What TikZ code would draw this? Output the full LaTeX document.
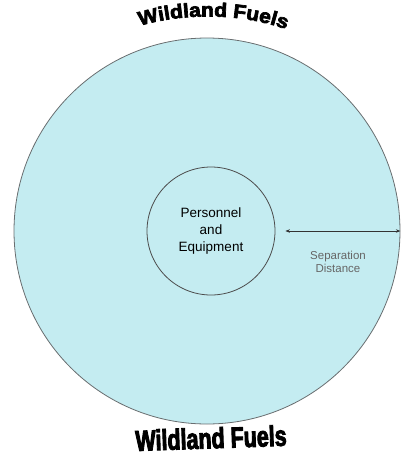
\documentclass[tikz,border=0pt]{standalone}
\usepackage{fontspec}
\setmainfont{Liberation Sans}
\newfontfamily\fueltop{Liberation Sans}[FakeStretch=1.08,FakeBold=3.5]
\newfontfamily\fuelbottom{Liberation Sans}[FakeStretch=0.74,FakeBold=3]
\usetikzlibrary{arrows.meta,decorations.text}
\definecolor{zone}{RGB}{196,236,241}
\definecolor{rim}{RGB}{105,110,112}
\begin{document}
\begin{tikzpicture}[x=1pt,y=-1pt,
  ring/.style={circle,fill=zone,draw=rim,line width=0.8pt,inner sep=0pt},
  sep/.style={{Stealth[length=4.5pt,width=3.5pt]}-{Stealth[length=4.5pt,width=3.5pt]},draw=black!80,line width=0.9pt}]
\useasboundingbox (0,0) rectangle (401,459);
\node[ring,minimum size=386pt] (fuel) at (207,231) {};
\node[ring,draw=black!70,minimum size=128pt,align=center,font=\fontsize{13.5}{17}\selectfont] (crew) at (211,231) {Personnel\\and\\Equipment};
\draw[sep] ([xshift=10pt]crew.east) -- (fuel.east);
\node[align=center,text=black!60,font=\fontsize{11.5}{13.5}\selectfont] (gap) at (338,262) {Separation\\Distance};
\path[decorate,decoration={text along path,text align=center,
  text={|\fueltop\bfseries\fontsize{19.5}{19.5}\selectfont|Wildland Fuels}}]
  (133,28) .. controls (180,12) and (245,12) .. (293,32);
\node[rotate=2,font=\fuelbottom\bfseries\fontsize{29}{29}\selectfont] (base) at (211,438) {Wildland Fuels};
\end{tikzpicture}
\end{document}
